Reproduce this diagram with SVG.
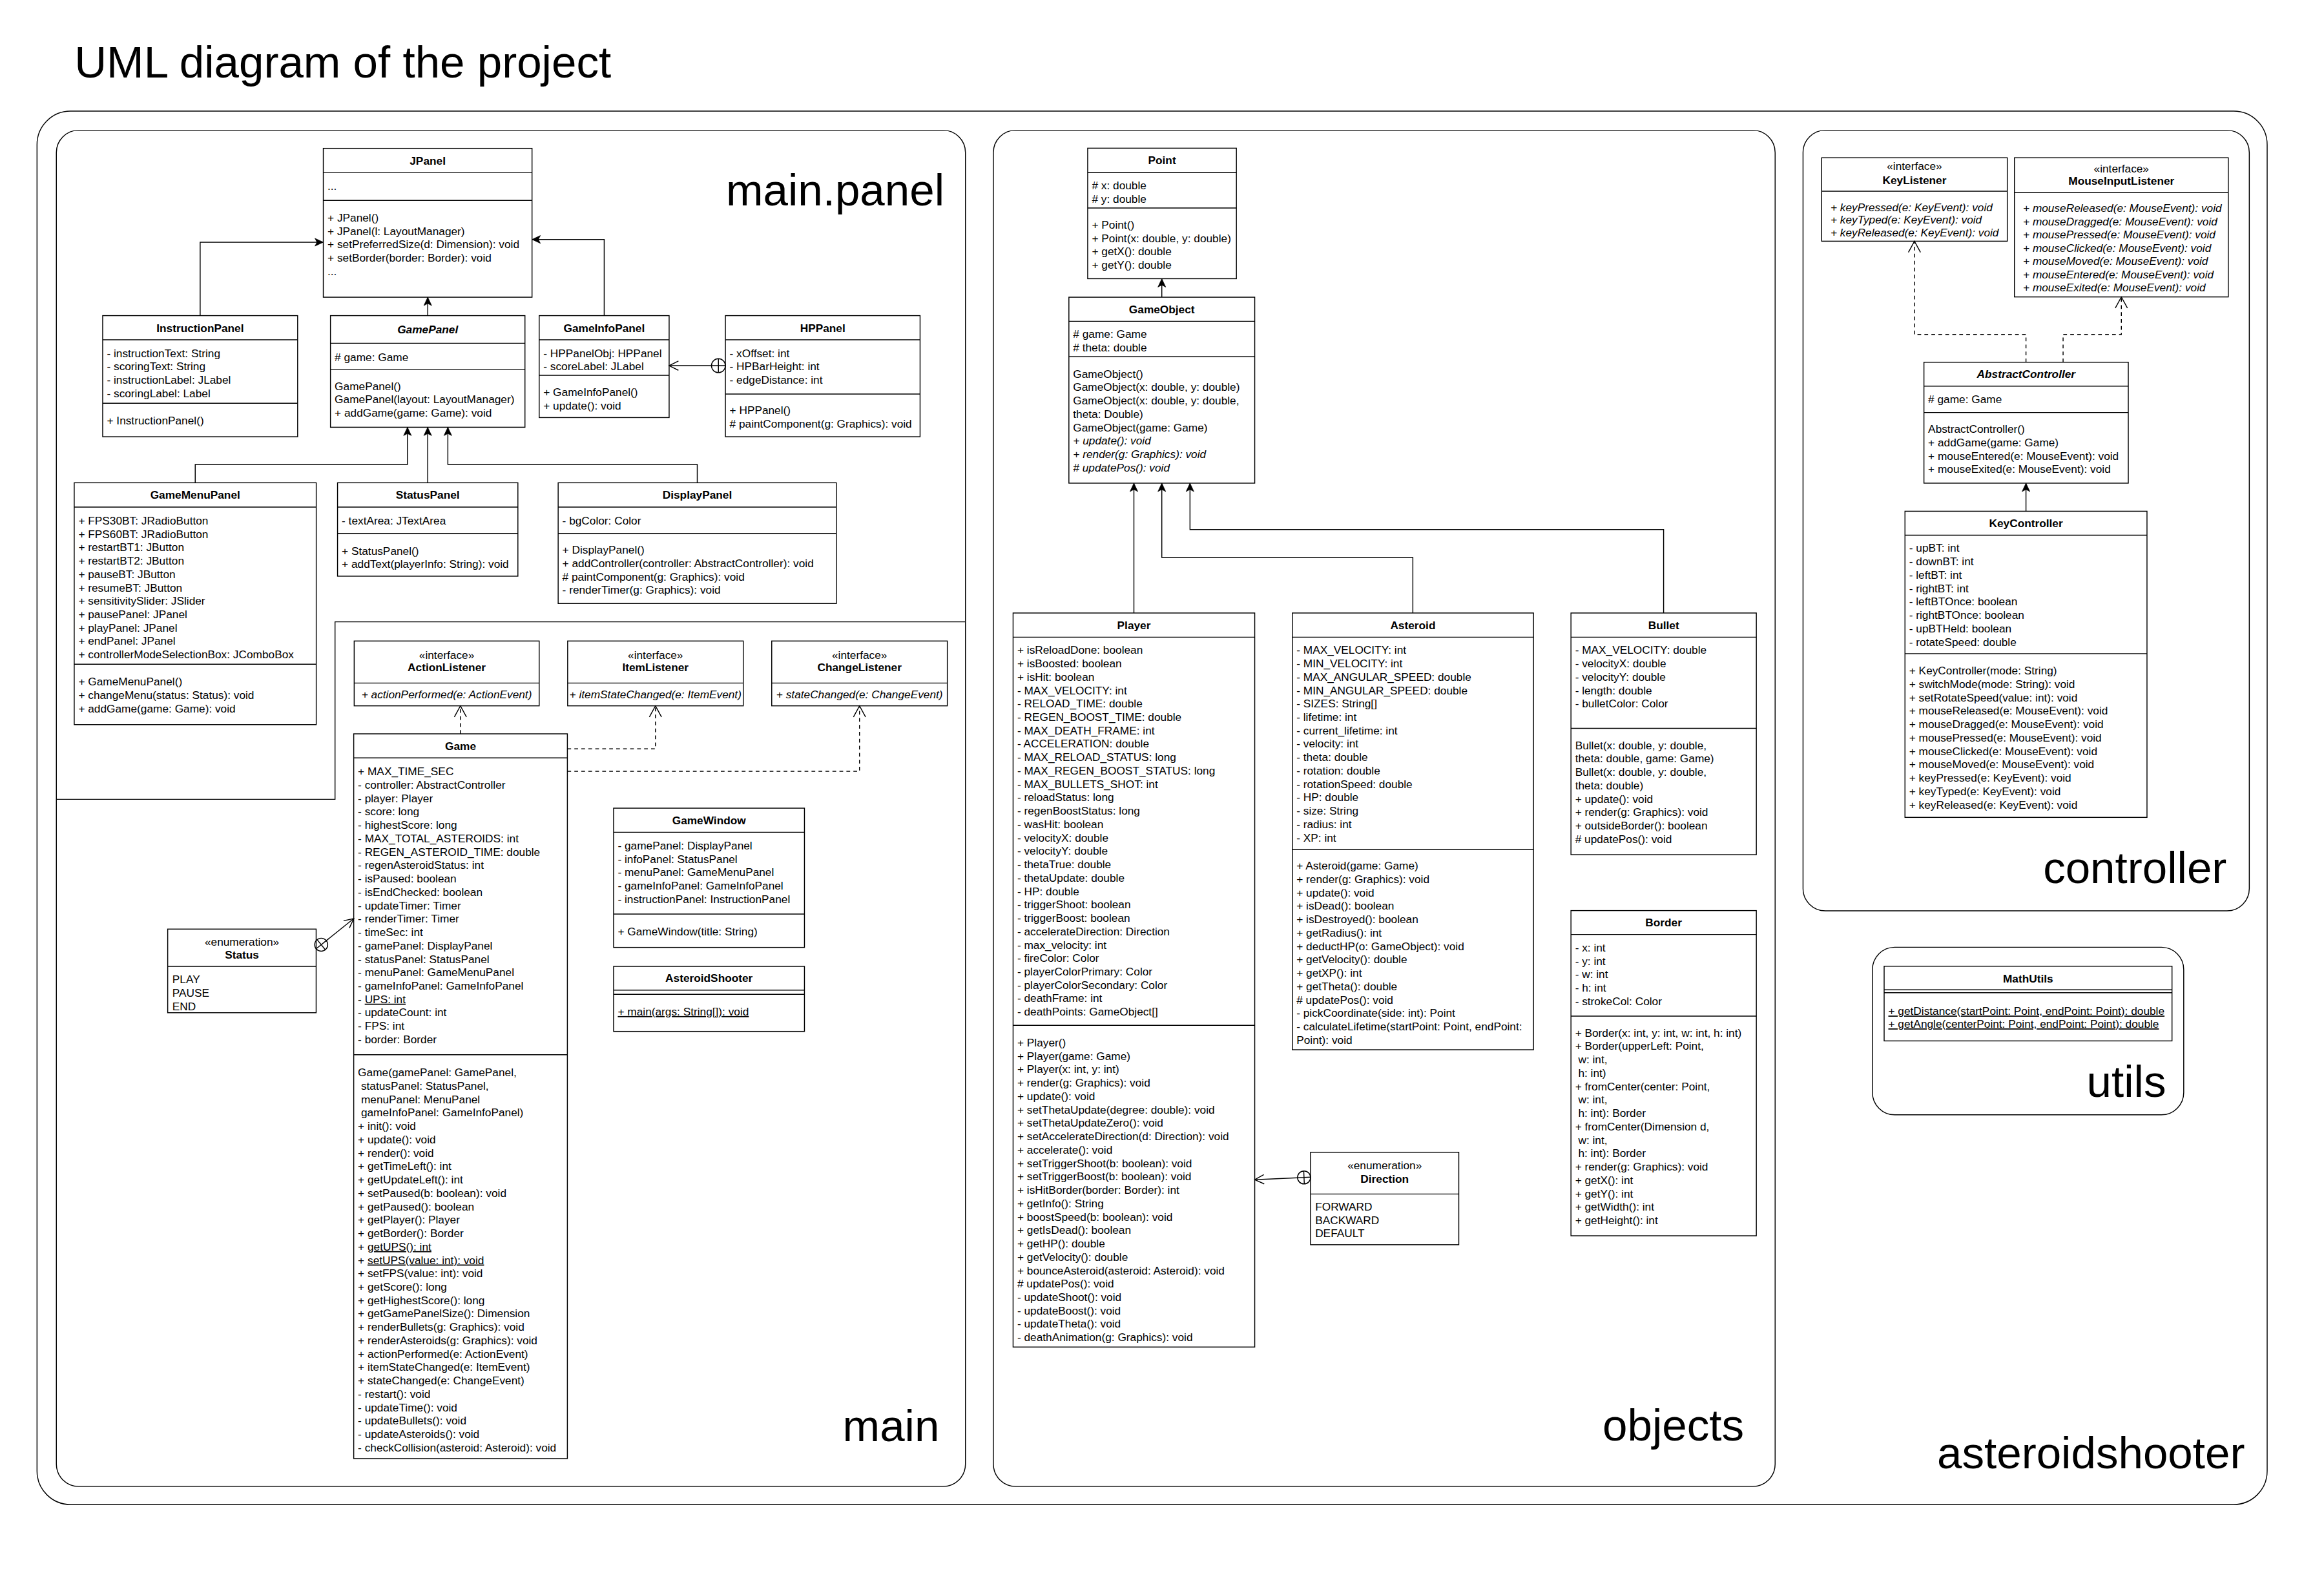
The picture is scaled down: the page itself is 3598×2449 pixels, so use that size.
<svg xmlns="http://www.w3.org/2000/svg" width="3598" height="2449" viewBox="0 0 3598 2449">
<style>
.bx{fill:#fff;stroke:#000;stroke-width:1}
.ln{stroke:#000;stroke-width:1;fill:none}
.ct{fill:none;stroke:#000;stroke-width:1}
text{font-family:"Liberation Sans",Arial,Helvetica,sans-serif;fill:#000}
.t{font-size:12px}
.h{font-size:12px;font-weight:bold;text-anchor:middle}
.m{text-anchor:middle}
.i{font-style:italic}
.u{text-decoration:underline}
.lbl{font-size:48px;text-anchor:end}
.title{font-size:48px}
.dash{stroke-dasharray:4 3.5}
</style>
<defs>
<marker id="gen" markerUnits="userSpaceOnUse" viewBox="0 0 9 9" markerWidth="9" markerHeight="9" refX="9" refY="4.5" orient="auto" overflow="visible"><path d="M0,0.3 L9,4.5 L0,8.7 L2.2,4.5 Z" fill="#000" stroke="#000" stroke-width="0.5"/></marker>
<marker id="real" markerUnits="userSpaceOnUse" viewBox="0 0 13 14" markerWidth="13" markerHeight="14" refX="12.5" refY="7" orient="auto" overflow="visible"><path d="M0.5,0.5 L12.5,7 L0.5,13.5" fill="none" stroke="#000" stroke-width="1"/></marker>
<marker id="open" markerUnits="userSpaceOnUse" viewBox="0 0 11 11" markerWidth="11" markerHeight="11" refX="10.5" refY="5.5" orient="auto" overflow="visible"><path d="M0.5,0.5 L10.5,5.5 L0.5,10.5" fill="none" stroke="#000" stroke-width="1"/></marker>
</defs>
<rect x="0" y="0" width="3598" height="2449" fill="#fff"/>
<g transform="scale(1.44)">
<text class="title" x="80" y="83">UML diagram of the project</text>

<g id="containers">
<rect id="pkg-asteroidshooter" class="ct" x="39.8" y="119.5" width="2397.7" height="1497.9" rx="36" ry="36"/>
<rect id="pkg-main" class="ct" x="60.6" y="140" width="977.4" height="1458" rx="24" ry="24"/>
<path id="pkg-main-panel" class="ct" d="M60.6,859.3 H360.2 V668.5 H1038"/>
<rect id="pkg-objects" class="ct" x="1068" y="140" width="840.5" height="1458" rx="24" ry="24"/>
<rect id="pkg-controller" class="ct" x="1938.5" y="140" width="479.8" height="839.2" rx="24" ry="24"/>
<rect id="pkg-utils" class="ct" x="2013.1" y="1018.3" width="334.7" height="180.2" rx="24" ry="24"/>
<text class="lbl" x="1015.3" y="220.7">main.panel</text>
<text class="lbl" x="1010" y="1549">main</text>
<text class="lbl" x="1875" y="1548.6">objects</text>
<text class="lbl" x="2394" y="949.3">controller</text>
<text class="lbl" x="2328.8" y="1179.2">utils</text>
<text class="lbl" x="2413.5" y="1578.5">asteroidshooter</text>
</g>

<g id="JPanel">
<rect class="bx" x="347.6" y="159.5" width="224.4" height="160"/>
<path class="ln" d="M347.6,185.5 H572 M347.6,215.5 H572"/>
<text class="h" x="459.8" y="176.8">JPanel</text>
<text class="t" x="352.1" y="204">...</text>
<text class="t" x="352.1" y="238.2"><tspan>+ JPanel()</tspan><tspan x="352.1" dy="14.4">+ JPanel(l: LayoutManager)</tspan><tspan x="352.1" dy="14.4">+ setPreferredSize(d: Dimension): void</tspan><tspan x="352.1" dy="14.4">+ setBorder(border: Border): void</tspan><tspan x="352.1" dy="14.4">...</tspan></text>
</g>

<g id="InstructionPanel">
<rect class="bx" x="110.4" y="339.3" width="209.6" height="130.2"/>
<path class="ln" d="M110.4,365.3 H320 M110.4,433.5 H320"/>
<text class="h" x="215.2" y="356.6">InstructionPanel</text>
<text class="t" x="114.9" y="383.7"><tspan>- instructionText: String</tspan><tspan x="114.9" dy="14.4">- scoringText: String</tspan><tspan x="114.9" dy="14.4">- instructionLabel: JLabel</tspan><tspan x="114.9" dy="14.4">- scoringLabel: Label</tspan></text>
<text class="t" x="114.9" y="456.2">+ InstructionPanel()</text>
</g>

<g id="GamePanel">
<rect class="bx" x="355.3" y="339.3" width="209.1" height="120"/>
<path class="ln" d="M355.3,369 H564.4 M355.3,397.3 H564.4"/>
<text class="h i" x="459.85" y="358.5">GamePanel</text>
<text class="t" x="359.8" y="388"># game: Game</text>
<text class="t" x="359.8" y="419.2"><tspan>GamePanel()</tspan><tspan x="359.8" dy="14.4">GamePanel(layout: LayoutManager)</tspan><tspan x="359.8" dy="14.4">+ addGame(game: Game): void</tspan></text>
</g>

<g id="GameInfoPanel">
<rect class="bx" x="579.7" y="339.3" width="139.7" height="109.6"/>
<path class="ln" d="M579.7,365.3 H719.4 M579.7,403.5 H719.4"/>
<text class="h" x="649.55" y="356.6">GameInfoPanel</text>
<text class="t" x="584.2" y="383.7"><tspan>- HPPanelObj: HPPanel</tspan><tspan x="584.2" dy="14.4">- scoreLabel: JLabel</tspan></text>
<text class="t" x="584.2" y="425.9"><tspan>+ GameInfoPanel()</tspan><tspan x="584.2" dy="14.4">+ update(): void</tspan></text>
</g>

<g id="HPPanel">
<rect class="bx" x="779.9" y="339.3" width="209.3" height="130.2"/>
<path class="ln" d="M779.9,365.3 H989.2 M779.9,423.6 H989.2"/>
<text class="h" x="884.55" y="356.6">HPPanel</text>
<text class="t" x="784.4" y="383.7"><tspan>- xOffset: int</tspan><tspan x="784.4" dy="14.4">- HPBarHeight: int</tspan><tspan x="784.4" dy="14.4">- edgeDistance: int</tspan></text>
<text class="t" x="784.4" y="445.3"><tspan>+ HPPanel()</tspan><tspan x="784.4" dy="14.4"># paintComponent(g: Graphics): void</tspan></text>
</g>

<g id="GameMenuPanel">
<rect class="bx" x="79.8" y="519" width="260.2" height="260"/>
<path class="ln" d="M79.8,545.1 H340 M79.8,714.1 H340"/>
<text class="h" x="209.9" y="536.3">GameMenuPanel</text>
<text class="t" x="84.3" y="563.8"><tspan>+ FPS30BT: JRadioButton</tspan><tspan x="84.3" dy="14.4">+ FPS60BT: JRadioButton</tspan><tspan x="84.3" dy="14.4">+ restartBT1: JButton</tspan><tspan x="84.3" dy="14.4">+ restartBT2: JButton</tspan><tspan x="84.3" dy="14.4">+ pauseBT: JButton</tspan><tspan x="84.3" dy="14.4">+ resumeBT: JButton</tspan><tspan x="84.3" dy="14.4">+ sensitivitySlider: JSlider</tspan><tspan x="84.3" dy="14.4">+ pausePanel: JPanel</tspan><tspan x="84.3" dy="14.4">+ playPanel: JPanel</tspan><tspan x="84.3" dy="14.4">+ endPanel: JPanel</tspan><tspan x="84.3" dy="14.4">+ controllerModeSelectionBox: JComboBox</tspan></text>
<text class="t" x="84.3" y="736.9"><tspan>+ GameMenuPanel()</tspan><tspan x="84.3" dy="14.4">+ changeMenu(status: Status): void</tspan><tspan x="84.3" dy="14.4">+ addGame(game: Game): void</tspan></text>
</g>

<g id="StatusPanel">
<rect class="bx" x="362.9" y="519" width="193.9" height="100.4"/>
<path class="ln" d="M362.9,545.1 H556.8 M362.9,573.4 H556.8"/>
<text class="h" x="459.85" y="536.3">StatusPanel</text>
<text class="t" x="367.4" y="563.8">- textArea: JTextArea</text>
<text class="t" x="367.4" y="596.2"><tspan>+ StatusPanel()</tspan><tspan x="367.4" dy="14.4">+ addText(playerInfo: String): void</tspan></text>
</g>

<g id="DisplayPanel">
<rect class="bx" x="600.1" y="519" width="299.1" height="129.8"/>
<path class="ln" d="M600.1,545.1 H899.2 M600.1,573.4 H899.2"/>
<text class="h" x="749.65" y="536.3">DisplayPanel</text>
<text class="t" x="604.6" y="563.8">- bgColor: Color</text>
<text class="t" x="604.6" y="595.3"><tspan>+ DisplayPanel()</tspan><tspan x="604.6" dy="14.4">+ addController(controller: AbstractController): void</tspan><tspan x="604.6" dy="14.4"># paintComponent(g: Graphics): void</tspan><tspan x="604.6" dy="14.4">- renderTimer(g: Graphics): void</tspan></text>
</g>

<g id="ActionListener">
<rect class="bx" x="380.8" y="689.1" width="198.9" height="69.7"/>
<path class="ln" d="M380.8,734.3 H579.7"/>
<text class="t m" x="480.25" y="708">«interface»</text>
<text class="h" x="480.25" y="721.4">ActionListener</text>
<text class="t m i" x="480.25" y="750.4">+ actionPerformed(e: ActionEvent)</text>
</g>

<g id="ItemListener">
<rect class="bx" x="610.3" y="689.1" width="188.8" height="69.7"/>
<path class="ln" d="M610.3,734.3 H799.1"/>
<text class="t m" x="704.7" y="708">«interface»</text>
<text class="h" x="704.7" y="721.4">ItemListener</text>
<text class="t m i" x="704.7" y="750.4">+ itemStateChanged(e: ItemEvent)</text>
</g>

<g id="ChangeListener">
<rect class="bx" x="829.7" y="689.1" width="188.8" height="69.7"/>
<path class="ln" d="M829.7,734.3 H1018.5"/>
<text class="t m" x="924.1" y="708">«interface»</text>
<text class="h" x="924.1" y="721.4">ChangeListener</text>
<text class="t m i" x="924.1" y="750.4">+ stateChanged(e: ChangeEvent)</text>
</g>

<g id="Game">
<rect class="bx" x="380.3" y="788.9" width="229.7" height="779.1"/>
<path class="ln" d="M380.3,814.8 H610 M380.3,1133.8 H610"/>
<text class="h" x="495.15" y="806.1">Game</text>
<text class="t" x="384.8" y="833.5"><tspan>+ MAX_TIME_SEC</tspan><tspan x="384.8" dy="14.4">- controller: AbstractController</tspan><tspan x="384.8" dy="14.4">- player: Player</tspan><tspan x="384.8" dy="14.4">- score: long</tspan><tspan x="384.8" dy="14.4">- highestScore: long</tspan><tspan x="384.8" dy="14.4">- MAX_TOTAL_ASTEROIDS: int</tspan><tspan x="384.8" dy="14.4">- REGEN_ASTEROID_TIME: double</tspan><tspan x="384.8" dy="14.4">- regenAsteroidStatus: int</tspan><tspan x="384.8" dy="14.4">- isPaused: boolean</tspan><tspan x="384.8" dy="14.4">- isEndChecked: boolean</tspan><tspan x="384.8" dy="14.4">- updateTimer: Timer</tspan><tspan x="384.8" dy="14.4">- renderTimer: Timer</tspan><tspan x="384.8" dy="14.4">- timeSec: int</tspan><tspan x="384.8" dy="14.4">- gamePanel: DisplayPanel</tspan><tspan x="384.8" dy="14.4">- statusPanel: StatusPanel</tspan><tspan x="384.8" dy="14.4">- menuPanel: GameMenuPanel</tspan><tspan x="384.8" dy="14.4">- gameInfoPanel: GameInfoPanel</tspan><tspan x="384.8" dy="14.4">- <tspan class="u">UPS: int</tspan></tspan><tspan x="384.8" dy="14.4">- updateCount: int</tspan><tspan x="384.8" dy="14.4">- FPS: int</tspan><tspan x="384.8" dy="14.4">- border: Border</tspan></text>
<text class="t" x="384.8" y="1157.1"><tspan>Game(gamePanel: GamePanel,</tspan><tspan x="384.8" dy="14.4">&#160;statusPanel: StatusPanel,</tspan><tspan x="384.8" dy="14.4">&#160;menuPanel: MenuPanel</tspan><tspan x="384.8" dy="14.4">&#160;gameInfoPanel: GameInfoPanel)</tspan><tspan x="384.8" dy="14.4">+ init(): void</tspan><tspan x="384.8" dy="14.4">+ update(): void</tspan><tspan x="384.8" dy="14.4">+ render(): void</tspan><tspan x="384.8" dy="14.4">+ getTimeLeft(): int</tspan><tspan x="384.8" dy="14.4">+ getUpdateLeft(): int</tspan><tspan x="384.8" dy="14.4">+ setPaused(b: boolean): void</tspan><tspan x="384.8" dy="14.4">+ getPaused(): boolean</tspan><tspan x="384.8" dy="14.4">+ getPlayer(): Player</tspan><tspan x="384.8" dy="14.4">+ getBorder(): Border</tspan><tspan x="384.8" dy="14.4">+ <tspan class="u">getUPS(): int</tspan></tspan><tspan x="384.8" dy="14.4">+ <tspan class="u">setUPS(value: int): void</tspan></tspan><tspan x="384.8" dy="14.4">+ setFPS(value: int): void</tspan><tspan x="384.8" dy="14.4">+ getScore(): long</tspan><tspan x="384.8" dy="14.4">+ getHighestScore(): long</tspan><tspan x="384.8" dy="14.4">+ getGamePanelSize(): Dimension</tspan><tspan x="384.8" dy="14.4">+ renderBullets(g: Graphics): void</tspan><tspan x="384.8" dy="14.4">+ renderAsteroids(g: Graphics): void</tspan><tspan x="384.8" dy="14.4">+ actionPerformed(e: ActionEvent)</tspan><tspan x="384.8" dy="14.4">+ itemStateChanged(e: ItemEvent)</tspan><tspan x="384.8" dy="14.4">+ stateChanged(e: ChangeEvent)</tspan><tspan x="384.8" dy="14.4">- restart(): void</tspan><tspan x="384.8" dy="14.4">- updateTime(): void</tspan><tspan x="384.8" dy="14.4">- updateBullets(): void</tspan><tspan x="384.8" dy="14.4">- updateAsteroids(): void</tspan><tspan x="384.8" dy="14.4">- checkCollision(asteroid: Asteroid): void</tspan></text>
</g>

<g id="Status">
<rect class="bx" x="180.3" y="998.8" width="159.6" height="89.9"/>
<path class="ln" d="M180.3,1038.9 H339.9"/>
<text class="t m" x="260.1" y="1017">«enumeration»</text>
<text class="h" x="260.1" y="1030.9">Status</text>
<text class="t" x="185.3" y="1057.1"><tspan>PLAY</tspan><tspan x="185.3" dy="14.4">PAUSE</tspan><tspan x="185.3" dy="14.4">END</tspan></text>
</g>

<g id="GameWindow">
<rect class="bx" x="659.7" y="868.8" width="205.2" height="149.7"/>
<path class="ln" d="M659.7,894.7 H864.9 M659.7,982.6 H864.9"/>
<text class="h" x="762.3" y="886">GameWindow</text>
<text class="t" x="664.2" y="913.1"><tspan>- gamePanel: DisplayPanel</tspan><tspan x="664.2" dy="14.4">- infoPanel: StatusPanel</tspan><tspan x="664.2" dy="14.4">- menuPanel: GameMenuPanel</tspan><tspan x="664.2" dy="14.4">- gameInfoPanel: GameInfoPanel</tspan><tspan x="664.2" dy="14.4">- instructionPanel: InstructionPanel</tspan></text>
<text class="t" x="664.2" y="1005.4">+ GameWindow(title: String)</text>
</g>

<g id="AsteroidShooter">
<rect class="bx" x="659.7" y="1038.9" width="205.2" height="69.9"/>
<path class="ln" d="M659.7,1064.4 H864.9 M659.7,1068.9 H864.9"/>
<text class="h" x="762.3" y="1055.9">AsteroidShooter</text>
<text class="t u" x="664.2" y="1091.6">+ main(args: String[]): void</text>
</g>

<g id="Point">
<rect class="bx" x="1169.4" y="159.3" width="159.9" height="140.3"/>
<path class="ln" d="M1169.4,185.6 H1329.3 M1169.4,223.6 H1329.3"/>
<text class="h" x="1249.35" y="176.7">Point</text>
<text class="t" x="1173.9" y="203.7"><tspan># x: double</tspan><tspan x="1173.9" dy="14.4"># y: double</tspan></text>
<text class="t" x="1173.9" y="245.8"><tspan>+ Point()</tspan><tspan x="1173.9" dy="14.4">+ Point(x: double, y: double)</tspan><tspan x="1173.9" dy="14.4">+ getX(): double</tspan><tspan x="1173.9" dy="14.4">+ getY(): double</tspan></text>
</g>

<g id="GameObject">
<rect class="bx" x="1149.2" y="319.5" width="199.8" height="199.9"/>
<path class="ln" d="M1149.2,345.4 H1349 M1149.2,383.5 H1349"/>
<text class="h" x="1249.1" y="336.7">GameObject</text>
<text class="t" x="1153.7" y="363.5"><tspan># game: Game</tspan><tspan x="1153.7" dy="14.4"># theta: double</tspan></text>
<text class="t" x="1153.7" y="406"><tspan>GameObject()</tspan><tspan x="1153.7" dy="14.4">GameObject(x: double, y: double)</tspan><tspan x="1153.7" dy="14.4">GameObject(x: double, y: double,</tspan><tspan x="1153.7" dy="14.4">theta: Double)</tspan><tspan x="1153.7" dy="14.4">GameObject(game: Game)</tspan><tspan class="i" x="1153.7" dy="14.4">+ update(): void</tspan><tspan class="i" x="1153.7" dy="14.4">+ render(g: Graphics): void</tspan><tspan class="i" x="1153.7" dy="14.4"># updatePos(): void</tspan></text>
</g>

<g id="Player">
<rect class="bx" x="1089.2" y="659" width="259.8" height="789.1"/>
<path class="ln" d="M1089.2,685 H1349 M1089.2,1102.3 H1349"/>
<text class="h" x="1219.1" y="676.3">Player</text>
<text class="t" x="1093.7" y="703"><tspan>+ isReloadDone: boolean</tspan><tspan x="1093.7" dy="14.4">+ isBoosted: boolean</tspan><tspan x="1093.7" dy="14.4">+ isHit: boolean</tspan><tspan x="1093.7" dy="14.4">- MAX_VELOCITY: int</tspan><tspan x="1093.7" dy="14.4">- RELOAD_TIME: double</tspan><tspan x="1093.7" dy="14.4">- REGEN_BOOST_TIME: double</tspan><tspan x="1093.7" dy="14.4">- MAX_DEATH_FRAME: int</tspan><tspan x="1093.7" dy="14.4">- ACCELERATION: double</tspan><tspan x="1093.7" dy="14.4">- MAX_RELOAD_STATUS: long</tspan><tspan x="1093.7" dy="14.4">- MAX_REGEN_BOOST_STATUS: long</tspan><tspan x="1093.7" dy="14.4">- MAX_BULLETS_SHOT: int</tspan><tspan x="1093.7" dy="14.4">- reloadStatus: long</tspan><tspan x="1093.7" dy="14.4">- regenBoostStatus: long</tspan><tspan x="1093.7" dy="14.4">- wasHit: boolean</tspan><tspan x="1093.7" dy="14.4">- velocityX: double</tspan><tspan x="1093.7" dy="14.4">- velocityY: double</tspan><tspan x="1093.7" dy="14.4">- thetaTrue: double</tspan><tspan x="1093.7" dy="14.4">- thetaUpdate: double</tspan><tspan x="1093.7" dy="14.4">- HP: double</tspan><tspan x="1093.7" dy="14.4">- triggerShoot: boolean</tspan><tspan x="1093.7" dy="14.4">- triggerBoost: boolean</tspan><tspan x="1093.7" dy="14.4">- accelerateDirection: Direction</tspan><tspan x="1093.7" dy="14.4">- max_velocity: int</tspan><tspan x="1093.7" dy="14.4">- fireColor: Color</tspan><tspan x="1093.7" dy="14.4">- playerColorPrimary: Color</tspan><tspan x="1093.7" dy="14.4">- playerColorSecondary: Color</tspan><tspan x="1093.7" dy="14.4">- deathFrame: int</tspan><tspan x="1093.7" dy="14.4">- deathPoints: GameObject[]</tspan></text>
<text class="t" x="1093.7" y="1125"><tspan>+ Player()</tspan><tspan x="1093.7" dy="14.4">+ Player(game: Game)</tspan><tspan x="1093.7" dy="14.4">+ Player(x: int, y: int)</tspan><tspan x="1093.7" dy="14.4">+ render(g: Graphics): void</tspan><tspan x="1093.7" dy="14.4">+ update(): void</tspan><tspan x="1093.7" dy="14.4">+ setThetaUpdate(degree: double): void</tspan><tspan x="1093.7" dy="14.4">+ setThetaUpdateZero(): void</tspan><tspan x="1093.7" dy="14.4">+ setAccelerateDirection(d: Direction): void</tspan><tspan x="1093.7" dy="14.4">+ accelerate(): void</tspan><tspan x="1093.7" dy="14.4">+ setTriggerShoot(b: boolean): void</tspan><tspan x="1093.7" dy="14.4">+ setTriggerBoost(b: boolean): void</tspan><tspan x="1093.7" dy="14.4">+ isHitBorder(border: Border): int</tspan><tspan x="1093.7" dy="14.4">+ getInfo(): String</tspan><tspan x="1093.7" dy="14.4">+ boostSpeed(b: boolean): void</tspan><tspan x="1093.7" dy="14.4">+ getIsDead(): boolean</tspan><tspan x="1093.7" dy="14.4">+ getHP(): double</tspan><tspan x="1093.7" dy="14.4">+ getVelocity(): double</tspan><tspan x="1093.7" dy="14.4">+ bounceAsteroid(asteroid: Asteroid): void</tspan><tspan x="1093.7" dy="14.4"># updatePos(): void</tspan><tspan x="1093.7" dy="14.4">- updateShoot(): void</tspan><tspan x="1093.7" dy="14.4">- updateBoost(): void</tspan><tspan x="1093.7" dy="14.4">- updateTheta(): void</tspan><tspan x="1093.7" dy="14.4">- deathAnimation(g: Graphics): void</tspan></text>
</g>

<g id="Asteroid">
<rect class="bx" x="1389.4" y="659" width="259.3" height="469.5"/>
<path class="ln" d="M1389.4,685 H1648.7 M1389.4,913.2 H1648.7"/>
<text class="h" x="1519.05" y="676.3">Asteroid</text>
<text class="t" x="1393.9" y="703"><tspan>- MAX_VELOCITY: int</tspan><tspan x="1393.9" dy="14.4">- MIN_VELOCITY: int</tspan><tspan x="1393.9" dy="14.4">- MAX_ANGULAR_SPEED: double</tspan><tspan x="1393.9" dy="14.4">- MIN_ANGULAR_SPEED: double</tspan><tspan x="1393.9" dy="14.4">- SIZES: String[]</tspan><tspan x="1393.9" dy="14.4">- lifetime: int</tspan><tspan x="1393.9" dy="14.4">- current_lifetime: int</tspan><tspan x="1393.9" dy="14.4">- velocity: int</tspan><tspan x="1393.9" dy="14.4">- theta: double</tspan><tspan x="1393.9" dy="14.4">- rotation: double</tspan><tspan x="1393.9" dy="14.4">- rotationSpeed: double</tspan><tspan x="1393.9" dy="14.4">- HP: double</tspan><tspan x="1393.9" dy="14.4">- size: String</tspan><tspan x="1393.9" dy="14.4">- radius: int</tspan><tspan x="1393.9" dy="14.4">- XP: int</tspan></text>
<text class="t" x="1393.9" y="934.9"><tspan>+ Asteroid(game: Game)</tspan><tspan x="1393.9" dy="14.4">+ render(g: Graphics): void</tspan><tspan x="1393.9" dy="14.4">+ update(): void</tspan><tspan x="1393.9" dy="14.4">+ isDead(): boolean</tspan><tspan x="1393.9" dy="14.4">+ isDestroyed(): boolean</tspan><tspan x="1393.9" dy="14.4">+ getRadius(): int</tspan><tspan x="1393.9" dy="14.4">+ deductHP(o: GameObject): void</tspan><tspan x="1393.9" dy="14.4">+ getVelocity(): double</tspan><tspan x="1393.9" dy="14.4">+ getXP(): int</tspan><tspan x="1393.9" dy="14.4">+ getTheta(): double</tspan><tspan x="1393.9" dy="14.4"># updatePos(): void</tspan><tspan x="1393.9" dy="14.4">- pickCoordinate(side: int): Point</tspan><tspan x="1393.9" dy="14.4">- calculateLifetime(startPoint: Point, endPoint:</tspan><tspan x="1393.9" dy="14.4">Point): void</tspan></text>
</g>

<g id="Bullet">
<rect class="bx" x="1689" y="659" width="199.3" height="259.8"/>
<path class="ln" d="M1689,685 H1888.3 M1689,783 H1888.3"/>
<text class="h" x="1788.65" y="676.3">Bullet</text>
<text class="t" x="1693.5" y="703"><tspan>- MAX_VELOCITY: double</tspan><tspan x="1693.5" dy="14.4">- velocityX: double</tspan><tspan x="1693.5" dy="14.4">- velocityY: double</tspan><tspan x="1693.5" dy="14.4">- length: double</tspan><tspan x="1693.5" dy="14.4">- bulletColor: Color</tspan></text>
<text class="t" x="1693.5" y="805.3"><tspan>Bullet(x: double, y: double,</tspan><tspan x="1693.5" dy="14.4">theta: double, game: Game)</tspan><tspan x="1693.5" dy="14.4">Bullet(x: double, y: double,</tspan><tspan x="1693.5" dy="14.4">theta: double)</tspan><tspan x="1693.5" dy="14.4">+ update(): void</tspan><tspan x="1693.5" dy="14.4">+ render(g: Graphics): void</tspan><tspan x="1693.5" dy="14.4">+ outsideBorder(): boolean</tspan><tspan x="1693.5" dy="14.4"># updatePos(): void</tspan></text>
</g>

<g id="Border">
<rect class="bx" x="1689" y="978.9" width="199.3" height="349.6"/>
<path class="ln" d="M1689,1004.6 H1888.3 M1689,1092.4 H1888.3"/>
<text class="h" x="1788.65" y="996">Border</text>
<text class="t" x="1693.5" y="1022.9"><tspan>- x: int</tspan><tspan x="1693.5" dy="14.4">- y: int</tspan><tspan x="1693.5" dy="14.4">- w: int</tspan><tspan x="1693.5" dy="14.4">- h: int</tspan><tspan x="1693.5" dy="14.4">- strokeCol: Color</tspan></text>
<text class="t" x="1693.5" y="1114.4"><tspan>+ Border(x: int, y: int, w: int, h: int)</tspan><tspan x="1693.5" dy="14.4">+ Border(upperLeft: Point,</tspan><tspan x="1693.5" dy="14.4">&#160;w: int,</tspan><tspan x="1693.5" dy="14.4">&#160;h: int)</tspan><tspan x="1693.5" dy="14.4">+ fromCenter(center: Point,</tspan><tspan x="1693.5" dy="14.4">&#160;w: int,</tspan><tspan x="1693.5" dy="14.4">&#160;h: int): Border</tspan><tspan x="1693.5" dy="14.4">+ fromCenter(Dimension d,</tspan><tspan x="1693.5" dy="14.4">&#160;w: int,</tspan><tspan x="1693.5" dy="14.4">&#160;h: int): Border</tspan><tspan x="1693.5" dy="14.4">+ render(g: Graphics): void</tspan><tspan x="1693.5" dy="14.4">+ getX(): int</tspan><tspan x="1693.5" dy="14.4">+ getY(): int</tspan><tspan x="1693.5" dy="14.4">+ getWidth(): int</tspan><tspan x="1693.5" dy="14.4">+ getHeight(): int</tspan></text>
</g>

<g id="Direction">
<rect class="bx" x="1409" y="1238.7" width="159.4" height="99.4"/>
<path class="ln" d="M1409,1283.6 H1568.4"/>
<text class="t m" x="1488.7" y="1256.7">«enumeration»</text>
<text class="h" x="1488.7" y="1271.3">Direction</text>
<text class="t" x="1414" y="1301.3"><tspan>FORWARD</tspan><tspan x="1414" dy="14.4">BACKWARD</tspan><tspan x="1414" dy="14.4">DEFAULT</tspan></text>
</g>

<g id="KeyListener">
<rect class="bx" x="1958.5" y="169.6" width="199.6" height="89.7"/>
<path class="ln" d="M1958.5,205.5 H2158.1"/>
<text class="t m" x="2058.3" y="182.6">«interface»</text>
<text class="h" x="2058.3" y="197.6">KeyListener</text>
<text class="t i" x="1968" y="226.8"><tspan>+ keyPressed(e: KeyEvent): void</tspan><tspan x="1968" dy="13.7">+ keyTyped(e: KeyEvent): void</tspan><tspan x="1968" dy="13.7">+ keyReleased(e: KeyEvent): void</tspan></text>
</g>

<g id="MouseInputListener">
<rect class="bx" x="2165.8" y="169.6" width="229.9" height="149.6"/>
<path class="ln" d="M2165.8,206.9 H2395.7"/>
<text class="t m" x="2280.75" y="185.6">«interface»</text>
<text class="h" x="2280.75" y="198.7">MouseInputListener</text>
<text class="t i" x="2175" y="227.9"><tspan>+ mouseReleased(e: MouseEvent): void</tspan><tspan x="2175" dy="14.23">+ mouseDragged(e: MouseEvent): void</tspan><tspan x="2175" dy="14.23">+ mousePressed(e: MouseEvent): void</tspan><tspan x="2175" dy="14.23">+ mouseClicked(e: MouseEvent): void</tspan><tspan x="2175" dy="14.23">+ mouseMoved(e: MouseEvent): void</tspan><tspan x="2175" dy="14.23">+ mouseEntered(e: MouseEvent): void</tspan><tspan x="2175" dy="14.23">+ mouseExited(e: MouseEvent): void</tspan></text>
</g>

<g id="AbstractController">
<rect class="bx" x="2068.5" y="389.4" width="219.7" height="130"/>
<path class="ln" d="M2068.5,415.1 H2288.2 M2068.5,443.5 H2288.2"/>
<text class="h i" x="2178.35" y="406.5">AbstractController</text>
<text class="t" x="2073" y="433.5"># game: Game</text>
<text class="t" x="2073" y="465.3"><tspan>AbstractController()</tspan><tspan x="2073" dy="14.4">+ addGame(game: Game)</tspan><tspan x="2073" dy="14.4">+ mouseEntered(e: MouseEvent): void</tspan><tspan x="2073" dy="14.4">+ mouseExited(e: MouseEvent): void</tspan></text>
</g>

<g id="KeyController">
<rect class="bx" x="2048.1" y="549.6" width="260.2" height="329.1"/>
<path class="ln" d="M2048.1,575.3 H2308.3 M2048.1,702.7 H2308.3"/>
<text class="h" x="2178.2" y="566.7">KeyController</text>
<text class="t" x="2052.6" y="593.3"><tspan>- upBT: int</tspan><tspan x="2052.6" dy="14.4">- downBT: int</tspan><tspan x="2052.6" dy="14.4">- leftBT: int</tspan><tspan x="2052.6" dy="14.4">- rightBT: int</tspan><tspan x="2052.6" dy="14.4">- leftBTOnce: boolean</tspan><tspan x="2052.6" dy="14.4">- rightBTOnce: boolean</tspan><tspan x="2052.6" dy="14.4">- upBTHeld: boolean</tspan><tspan x="2052.6" dy="14.4">- rotateSpeed: double</tspan></text>
<text class="t" x="2052.6" y="725.1"><tspan>+ KeyController(mode: String)</tspan><tspan x="2052.6" dy="14.4">+ switchMode(mode: String): void</tspan><tspan x="2052.6" dy="14.4">+ setRotateSpeed(value: int): void</tspan><tspan x="2052.6" dy="14.4">+ mouseReleased(e: MouseEvent): void</tspan><tspan x="2052.6" dy="14.4">+ mouseDragged(e: MouseEvent): void</tspan><tspan x="2052.6" dy="14.4">+ mousePressed(e: MouseEvent): void</tspan><tspan x="2052.6" dy="14.4">+ mouseClicked(e: MouseEvent): void</tspan><tspan x="2052.6" dy="14.4">+ mouseMoved(e: MouseEvent): void</tspan><tspan x="2052.6" dy="14.4">+ keyPressed(e: KeyEvent): void</tspan><tspan x="2052.6" dy="14.4">+ keyTyped(e: KeyEvent): void</tspan><tspan x="2052.6" dy="14.4">+ keyReleased(e: KeyEvent): void</tspan></text>
</g>

<g id="MathUtils">
<rect class="bx" x="2025.7" y="1038.7" width="309.5" height="80.3"/>
<path class="ln" d="M2025.7,1064 H2335.2 M2025.7,1067.2 H2335.2"/>
<text class="h" x="2180.45" y="1056.5">MathUtils</text>
<text class="t u" x="2030.2" y="1091.1"><tspan>+ getDistance(startPoint: Point, endPoint: Point): double</tspan><tspan x="2030.2" dy="13.8">+ getAngle(centerPoint: Point, endPoint: Point): double</tspan></text>
</g>

<g id="connectors" class="ln">
<path d="M215.2,339.3 V260.4 H347.6" marker-end="url(#gen)"/>
<path d="M459.9,339.3 V319.5" marker-end="url(#gen)"/>
<path d="M649.6,339.3 V257.4 H572" marker-end="url(#gen)"/>
<circle cx="772.4" cy="393.1" r="7.5"/>
<path d="M764.9,393.1 H779.9 M772.4,385.6 V400.6"/>
<path d="M764.9,393.1 H719.4" marker-end="url(#open)"/>
<path d="M209.9,519 V499.3 H438.1 V459.3" marker-end="url(#gen)"/>
<path d="M459.85,519 V459.3" marker-end="url(#gen)"/>
<path d="M749.65,519 V499.3 H481.5 V459.3" marker-end="url(#gen)"/>
<path class="dash" d="M495,788.9 V758.8" marker-end="url(#real)"/>
<path class="dash" d="M610,805 H704.7 V758.8" marker-end="url(#real)"/>
<path class="dash" d="M610,829.2 H924.1 V758.8" marker-end="url(#real)"/>
<circle cx="345.35" cy="1015.6" r="7"/>
<path d="M339.9,1020 L350.8,1011.2 M349.74,1021.05 L340.96,1010.15"/>
<path d="M350.8,1011.2 L380.3,987.5" marker-end="url(#open)"/>
<path d="M1249.1,319.5 V299.6" marker-end="url(#gen)"/>
<path d="M1219.1,659 V519.4" marker-end="url(#gen)"/>
<path d="M1519,659 V599.3 H1249.1 V519.4" marker-end="url(#gen)"/>
<path d="M1788.6,659 V569.3 H1279.4 V519.4" marker-end="url(#gen)"/>
<circle cx="1402" cy="1265.8" r="7"/>
<path d="M1409,1265.5 L1395,1266.1 M1402.3,1272.8 L1401.7,1258.8"/>
<path d="M1395,1266.1 L1349,1268.2" marker-end="url(#open)"/>
<path class="dash" d="M2178.2,389.4 V359.6 H2058.3 V259.3" marker-end="url(#real)"/>
<path class="dash" d="M2218.1,389.4 V359.6 H2280.75 V319.2" marker-end="url(#real)"/>
<path d="M2178.2,549.6 V519.4" marker-end="url(#gen)"/>
</g>
</g>
</svg>
